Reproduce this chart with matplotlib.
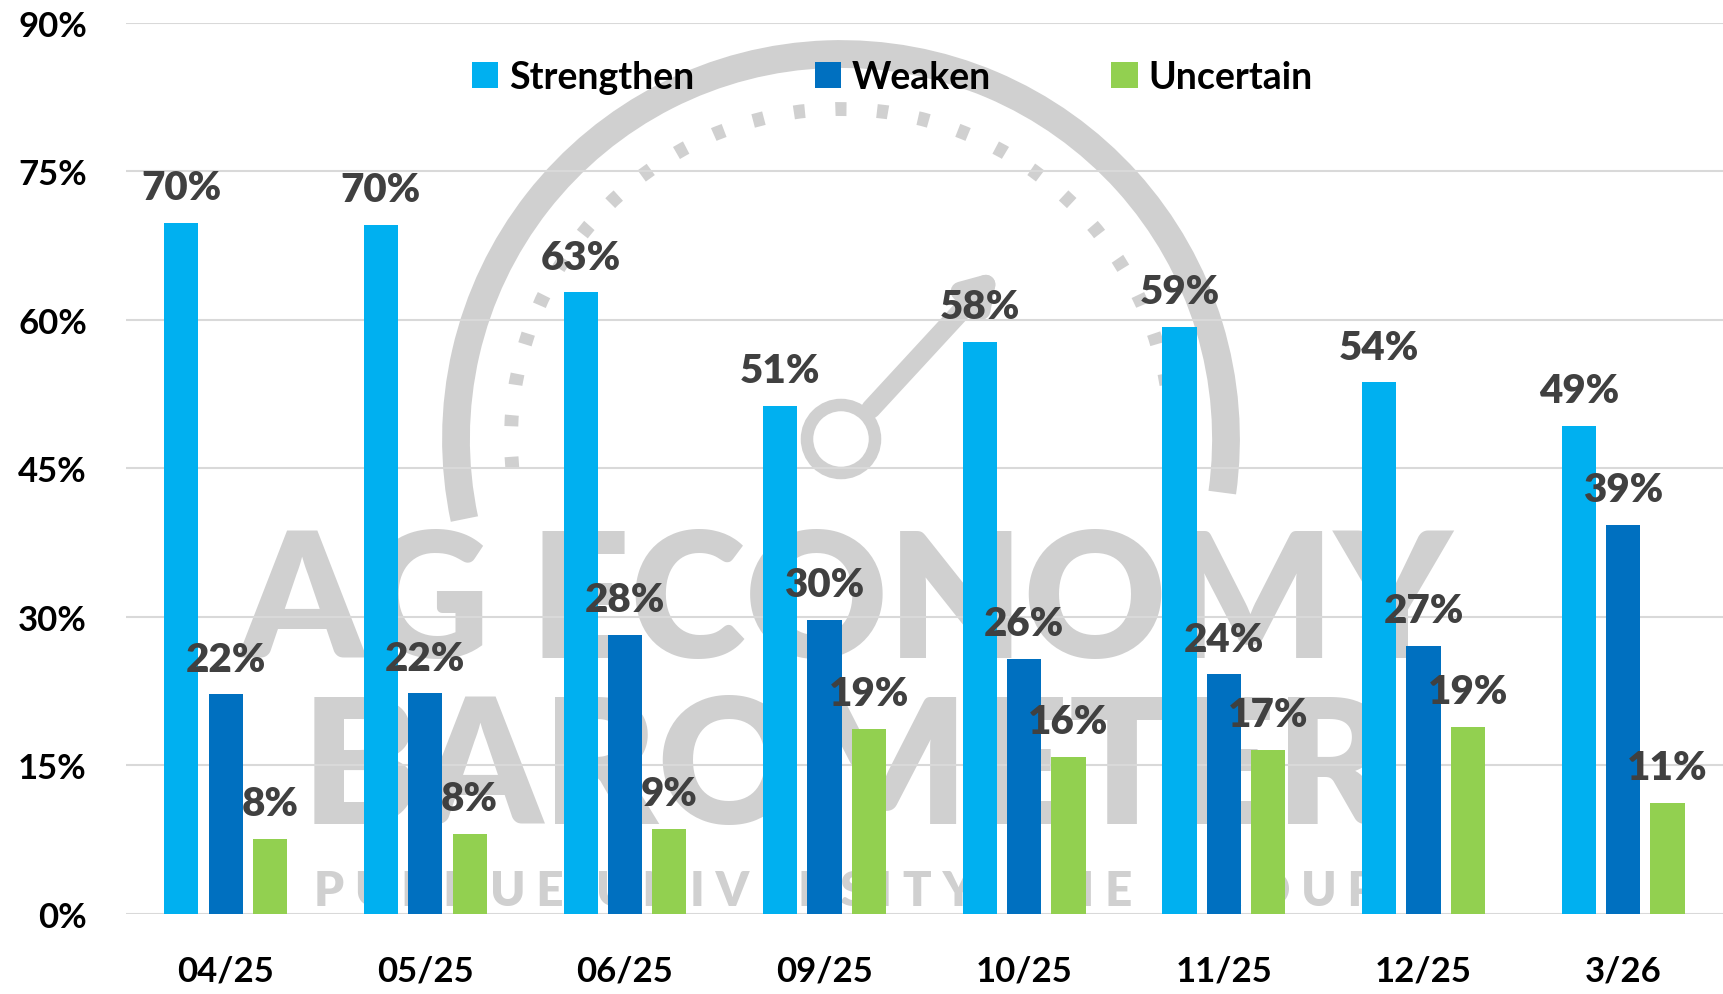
#! /usr/bin/env python

import matplotlib.pyplot as plt
from matplotlib.patches import Arc, Circle
import numpy as np

plt.rcParams['font.family'] = ['Lato', 'DejaVu Sans']
plt.rcParams['font.weight'] = 'bold'

months = ["04/25", "05/25", "06/25", "09/25", "10/25", "11/25", "12/25", "3/26"]
strengthen = [69.8, 69.6, 62.8, 51.3, 57.8, 59.3, 53.7, 49.3]
weaken = [22.2, 22.3, 28.2, 29.7, 25.8, 24.2, 27.1, 39.3]
uncertain = [7.6, 8.1, 8.6, 18.7, 15.9, 16.6, 18.9, 11.2]
yticks = [0, 15, 30, 45, 60, 75, 90]

series = [("Strengthen", strengthen, "#00B0F0"),
		  ("Weaken", weaken, "#0070C0"),
		  ("Uncertain", uncertain, "#92D050")]

wm = "#D0D0D0"

fig = plt.figure(figsize=(17.23, 9.95), dpi=100)

# watermark layer (pixel coords, y up)
bg = fig.add_axes([0, 0, 1, 1], zorder=0)
bg.set_xlim(0, 1723)
bg.set_ylim(0, 995)
bg.axis("off")
cx, cy = 841, 555
bg.add_patch(Arc((cx, cy), 770, 770, theta1=-8, theta2=192, color=wm, lw=20))
bg.add_patch(Arc((cx, cy), 660, 660, theta1=-5, theta2=190, color=wm, lw=10,
				 linestyle=(0, (0.8, 2.2))))
bg.add_patch(Circle((cx, cy), 34, fill=False, ec=wm, lw=9))
bg.annotate("", xy=(1000, 725), xytext=(cx + 28, cy + 28),
			arrowprops=dict(arrowstyle="-|>,head_length=1.6,head_width=1.0",
							color=wm, lw=14))
bg.text(846, 388, "AG ECONOMY", fontsize=126, color=wm, ha="center",
		va="center", fontweight="heavy")
bg.text(846, 222, "BAROMETER", fontsize=126, color=wm, ha="center",
		va="center", fontweight="heavy")
bg.text(846, 103, "P U R D U E   U N I V E R S I T Y   C M E   G R O U P",
		fontsize=34, color=wm, ha="center", va="center", fontweight="heavy")

ax = fig.add_axes([0.073, 0.0804, 0.927, 0.8956], zorder=1)
ax.patch.set_alpha(0)

x = np.arange(len(months))
w = 0.171
step = 0.222
for i, (name, vals, col) in enumerate(series):
	pos = x + (i - 1) * step
	ax.bar(pos, vals, w, color=col, label=name, zorder=3)
	for px, v in zip(pos, vals):
		ax.annotate("%d%%" % round(v), (px, v), xytext=(0, 12),
					textcoords="offset points", ha="center", va="bottom",
					fontsize=29, color="#404040", fontweight="heavy", zorder=5)

ax.set_xlim(-0.5, len(months) - 0.5)
ax.set_ylim(0, 90)
ax.set_yticks(yticks)
ax.set_yticklabels(["%d%%" % t for t in yticks])
ax.set_xticks(x)
ax.set_xticklabels(months)
ax.tick_params(axis="y", length=0, pad=28, labelsize=25)
ax.tick_params(axis="x", length=0, pad=29, labelsize=25)
ax.grid(axis="y", color="#D9D9D9", linewidth=1.5, zorder=1)
ax.set_axisbelow(True)
for s in ax.spines.values():
	s.set_visible(False)

leg = ax.legend(loc="upper center", bbox_to_anchor=(0.48, 0.996), ncol=3,
				frameon=False, fontsize=27, handlelength=0.7, handleheight=0.7,
				handletextpad=0.3, columnspacing=3.2)

plt.savefig("out.png", dpi=100)
